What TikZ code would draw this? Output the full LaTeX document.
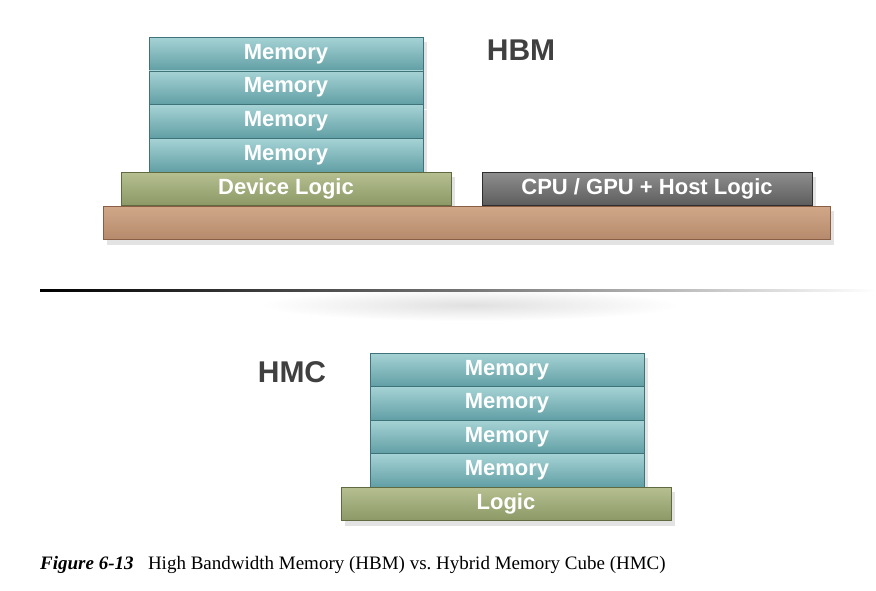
\documentclass[tikz,border=0pt]{standalone}
\usepackage{fontspec}
\setmainfont{Liberation Serif}
\setsansfont{Liberation Sans}
\usetikzlibrary{positioning,shadows}
\definecolor{memtop}{HTML}{A6D3D5}
\definecolor{membot}{HTML}{619FA5}
\definecolor{memedge}{HTML}{3E7379}
\definecolor{logtop}{HTML}{B5BF90}
\definecolor{logbot}{HTML}{8C9866}
\definecolor{logedge}{HTML}{5F6A40}
\definecolor{subtop}{HTML}{D0A888}
\definecolor{subbot}{HTML}{B58A6C}
\definecolor{subedge}{HTML}{8A5E45}
\definecolor{cputop}{HTML}{8E8E8E}
\definecolor{cpubot}{HTML}{5C5C5C}
\definecolor{cpuedge}{HTML}{2E2E2E}
\tikzset{
  layer/.style={draw=#1,line width=0.7pt,inner sep=0pt,minimum height=33.5pt,
    text=white,font=\sffamily\bfseries\fontsize{22}{22}\selectfont,
    drop shadow={shadow xshift=4pt,shadow yshift=-5pt,opacity=0.22}},
  mem/.style={layer=memedge,top color=memtop,bottom color=membot,minimum width=274pt},
  logic/.style={layer=logedge,top color=logtop,bottom color=logbot,minimum width=330pt},
  host/.style={layer=cpuedge,top color=cputop,bottom color=cpubot,minimum width=330pt},
  subst/.style={layer=subedge,top color=subtop,bottom color=subbot,minimum width=727pt},
  title/.style={font=\sffamily\bfseries\fontsize{30}{30}\selectfont,text=black!75},
}

\begin{document}
\begin{tikzpicture}[x=1pt,y=-1pt]
\useasboundingbox (0,0) rectangle (876,590);

% ================= TOP: HBM =================
\foreach \i in {1,...,4}{
  \node[mem] (hbmmem\i) at (286,{37+(\i-0.5)*33.75}) {Memory};
}
\node[logic] (hbmlogic) at (286,189) {Device Logic};
\node[host] (hbmhost) at (647,189) {CPU / GPU + Host Logic};
\node[subst] (hbmsub) at (466.5,223) {};
\node[title] (hbmtitle) at (521,50) {HBM};

% ================= divider =================
\shade[inner color=black!12,outer color=white] (470,305) ellipse (210 and 16);
\shade[left color=black,right color=white,middle color=black!55] (40,289) rectangle (876,291.5);

% ================= BOTTOM: HMC =================
\foreach \i in {1,...,4}{
  \node[mem] (hmcmem\i) at (507,{353+(\i-0.5)*33.5}) {Memory};
}
\node[logic] (hmclogic) at (506,504) {Logic};
\node[title] (hmctitle) at (292,372) {HMC};

% ================= caption =================
\node[font=\fontsize{19}{19}\selectfont\bfseries\itshape,anchor=base west,inner sep=0pt] (figno) at (40,569) {Figure 6-13};
\node[font=\fontsize{19}{19}\selectfont,inner sep=0pt,base right=14pt of figno] (figtext)
  {High Bandwidth Memory (HBM) vs.\ Hybrid Memory Cube (HMC)};
\end{tikzpicture}
\end{document}
